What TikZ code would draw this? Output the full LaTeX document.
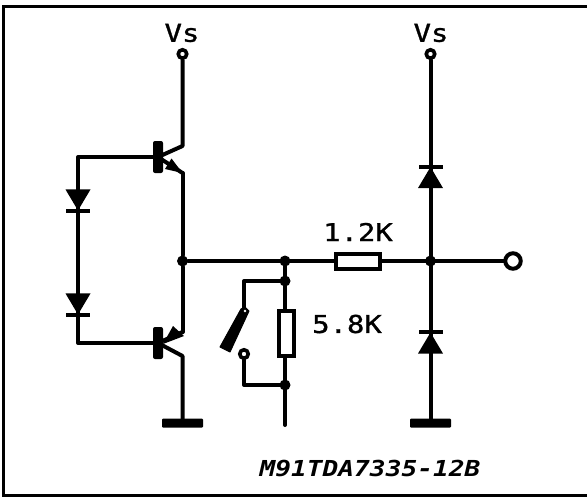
\documentclass[tikz,border=0pt]{standalone}
\usepackage{fontspec}
\usetikzlibrary{shapes.geometric}
\newfontfamily\lblfont{DejaVu Sans Mono}[FakeStretch=1.18,FakeBold=1.2]
\newfontfamily\codefont{DejaVu Sans Mono Bold Oblique}[FakeStretch=1.19]
\tikzset{
  wire/.style={line width=4pt,line cap=round,line join=round},
  term/.style={circle,draw,line width=3.6pt,fill=white,minimum size=8.5pt,inner sep=0pt},
  outterm/.style={circle,draw,line width=4pt,fill=white,minimum size=15.5pt,inner sep=0pt},
  dot/.style={circle,fill,minimum size=11pt,inner sep=0pt},
  res/.style={rectangle,draw,line width=4pt,fill=white,inner sep=0pt},
  gnd/.style={rectangle,fill,rounded corners=1pt,minimum width=41pt,minimum height=9pt,inner sep=0pt},
  basebar/.style={rectangle,fill,rounded corners=2pt,minimum width=10pt,minimum height=32pt,inner sep=0pt},
  dtri/.style={isosceles triangle,isosceles triangle stretches,fill,minimum width=25pt,minimum height=21pt,inner sep=0pt,anchor=apex},
  dbar/.style={rectangle,fill,minimum width=24pt,minimum height=4pt,inner sep=0pt},
  lbl/.style={font=\fontsize{24.5}{24.5}\lblfont,inner sep=0pt},
}
\begin{document}
\begin{tikzpicture}[x=1pt,y=-1pt]
\useasboundingbox (0,0) rectangle (587,496);
\draw[line width=3pt] (587,6.5) -- (3.5,6.5) -- (3.5,495) -- (587,495);

% named points
\node[term] (vs1) at (182.5,54) {};
\node[term] (vs2) at (430.5,54) {};
\node[lbl] (vs1t) at (182,33) {Vs};
\node[lbl] (vs2t) at (431,33) {Vs};
\node[outterm] (out) at (513,261) {};
\node[dot] (j1) at (182.5,261) {};
\node[dot] (j2) at (285,261) {};
\node[dot] (j3) at (285,281) {};
\node[dot] (j4) at (285,385) {};
\node[dot] (j5) at (430.5,261) {};
\coordinate (c1) at (182.5,146);
\coordinate (e1) at (182.5,173);
\coordinate (e2) at (182.5,332);
\coordinate (c2) at (182.5,356);
\coordinate (k1) at (78,157);
\coordinate (k2) at (78,343);
\coordinate (s1) at (244,281);
\coordinate (s2) at (244,385);
\coordinate (end) at (285,425);
\node[basebar] (b1) at (158,157) {};
\node[basebar] (b2) at (158,343) {};
\node[gnd] (g1) at (182.5,423) {};
\node[gnd] (g2) at (430.5,423) {};

% wires
\draw[wire] (vs1) -- (c1) -- (b1.center);
\draw[wire] (e1) -- (j1) -- (e2);
\draw[wire] (b2.center) -- (c2) -- (g1.center);
\draw[wire] (b1.center) -- (k1) -- (k2) -- (b2.center);
\draw[wire] (j1) -- (out);
\draw[wire] (j2) -- (end);
\draw[wire] (vs2) -- (g2.center);
\draw[wire] (j3) -- (s1) -- (244,310);
\draw[wire] (j4) -- (s2) -- (244,354);

% emitter arrows
\draw[wire] (b1.center) -- (e1);
\fill (e1) -- (171.5,158.5) -- (165,169) -- cycle;
\draw[wire] (e2) -- (b2.center);
\fill (163,344) -- (173,326) -- (184,336) -- cycle;

% diodes
\node[dtri,shape border rotate=-90] (d1) at (78,211) {};
\node[dbar] (d1b) at (78,211) {};
\node[dtri,shape border rotate=-90] (d2) at (78,315) {};
\node[dbar] (d2b) at (78,315) {};
\node[dtri,shape border rotate=90] (d3) at (430.5,166.5) {};
\node[dbar] (d3b) at (430.5,166.5) {};
\node[dtri,shape border rotate=90] (d4) at (430.5,332) {};
\node[dbar] (d4b) at (430.5,332) {};

% resistors
\node[res,minimum width=44pt,minimum height=15pt] (r1) at (358,261) {};
\node[res,minimum width=15pt,minimum height=45pt] (r2) at (286,333) {};
\node[lbl] (r1t) at (358,232) {1.2K};
\node[lbl] (r2t) at (347,324) {5.8K};

% switch
\node[term] (sw) at (244,354) {};
\fill[line join=round,draw,line width=1pt] (241,309) -- (245,307) -- (249,311) -- (230,352) -- (220,347) -- cycle;
\fill[white] (245,311) circle (1.3);

\node[inner sep=0pt,font=\fontsize{22}{22}\codefont] (code) at (370,468) {M91TDA7335-12B};
\end{tikzpicture}
\end{document}
